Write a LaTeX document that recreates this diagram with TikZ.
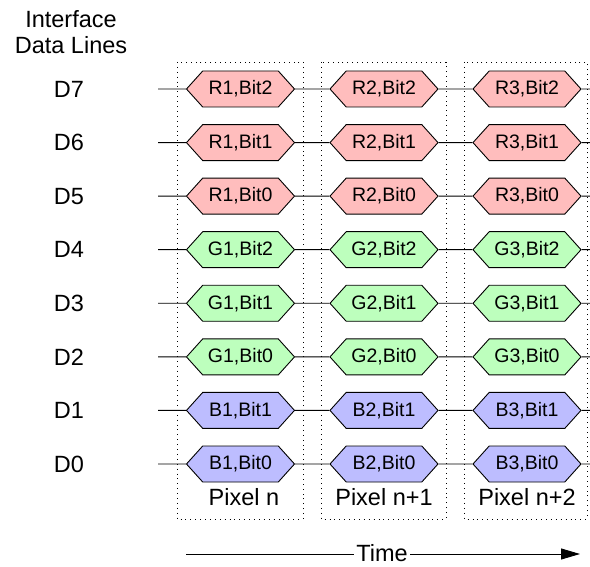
\documentclass[tikz,border=0pt]{standalone}
\usepackage{fontspec}
\setmainfont{Liberation Sans}
\usetikzlibrary{arrows.meta,shapes.symbols}
\definecolor{Rcell}{RGB}{255,189,189}
\definecolor{Gcell}{RGB}{189,255,189}
\definecolor{Bcell}{RGB}{189,189,255}
\begin{document}
\begin{tikzpicture}[x=1pt, y=-1pt, >=Latex,
  lbl/.style={font=\fontsize{23.5}{25.5}\selectfont},
  hexcell/.style={signal, signal to=east and west, signal pointer angle=96,
    draw, line width=0.9pt, minimum width=108pt, minimum height=36pt,
    inner sep=0pt, font=\fontsize{19.5}{22}\selectfont},
  pixbox/.style={draw, dash pattern=on 0.9pt off 4pt, line width=0.8pt}]
  \useasboundingbox (0,0) rectangle (590,567);
  \node[lbl, align=center] (title) at (71,32) {Interface\\Data Lines};
  \foreach \xa/\xb in {177/303,321/446,464/587}
    \draw[pixbox] (\xa,62) rectangle (\xb,519);
  \foreach \r/\y/\c/\b in {7/89/R/2,6/142.6/R/1,5/196.1/R/0,4/249.7/G/2,
    3/303.3/G/1,2/356.9/G/0,1/410.4/B/1,0/464/B/0}
  {
    \node[lbl] (d\r) at (69,\y) {D\r};
    \coordinate (s\r) at (158,\y);
    \coordinate (e\r) at (590,\y);
    \node[hexcell, fill=\c cell] (h\r-1) at (240.5,\y) {\c1,Bit\b};
    \node[hexcell, fill=\c cell] (h\r-2) at (384,\y) {\c2,Bit\b};
    \node[hexcell, fill=\c cell] (h\r-3) at (527,\y) {\c3,Bit\b};
    \draw[line width=0.9pt] (s\r) -- (h\r-1) -- (h\r-2) -- (h\r-3) -- (e\r);
  }
  \node[lbl] (px1) at (244,497) {Pixel n};
  \node[lbl] (px2) at (384,497) {Pixel n+1};
  \node[lbl] (px3) at (527,497) {Pixel n+2};
  \coordinate (t0) at (186,554);
  \coordinate (t1) at (580,554);
  \draw[line width=0.9pt, -{Triangle[length=19pt,width=11pt]}] (t0) -- (t1);
  \node[lbl, fill=white, inner xsep=2pt, inner ysep=1pt] (time) at (382,553) {Time};
\end{tikzpicture}
\end{document}
